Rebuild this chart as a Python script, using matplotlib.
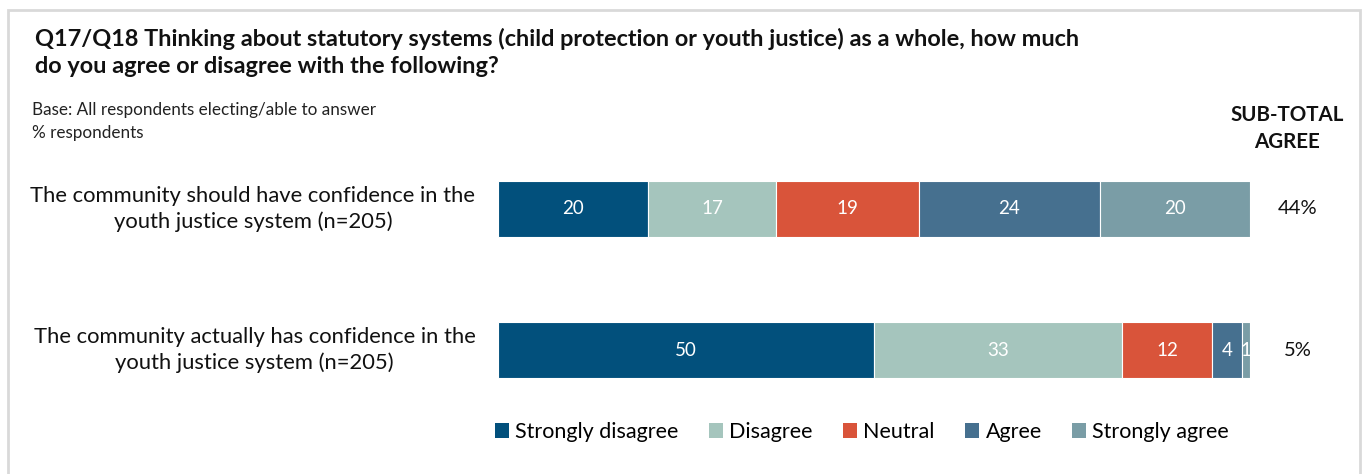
import matplotlib
matplotlib.use("Agg")
import matplotlib.pyplot as plt
from matplotlib.patches import Rectangle, Patch

plt.rcParams['font.family'] = ['Lato', 'DejaVu Sans']

categories = ["The community should have confidence in the\nyouth justice system (n=205)",
              "The community actually has confidence in the\nyouth justice system (n=205)"]
series_names = ["Strongly disagree", "Disagree", "Neutral", "Agree", "Strongly agree"]
strongly_disagree = [20, 50]
disagree = [17, 33]
neutral = [19, 12]
agree = [24, 4]
strongly_agree = [20, 1]
subtotal_agree = ["44%", "5%"]
colors = ["#02507C", "#A5C5BD", "#D9543A", "#46708F", "#7A9DA6"]

W, H = 1364, 474
fig = plt.figure(figsize=(W/100, H/100), dpi=100)

def fx(px): return px / W
def fy(py): return 1 - py / H

# frame
fig.patches.append(Rectangle((fx(8), fy(500)), fx(1360) - fx(8), fy(10) - fy(500),
                             transform=fig.transFigure, fill=False,
                             edgecolor="#D9D9D9", linewidth=2))

fig.text(fx(35), fy(39), "Q17/Q18 Thinking about statutory systems (child protection or youth justice) as a whole, how much",
         fontsize=16.9, fontweight="bold", ha="left", va="center", color="#111111")
fig.text(fx(35), fy(67), "do you agree or disagree with the following?",
         fontsize=16.9, fontweight="bold", ha="left", va="center", color="#111111")
fig.text(fx(32), fy(110), "Base: All respondents electing/able to answer",
         fontsize=12.3, ha="left", va="center", color="#222222")
fig.text(fx(32), fy(133), "% respondents",
         fontsize=12.3, ha="left", va="center", color="#222222")
fig.text(fx(1287), fy(115), "SUB-TOTAL", fontsize=14.8, fontweight="bold",
         ha="center", va="center", color="#111111")
fig.text(fx(1287), fy(142), "AGREE", fontsize=14.8, fontweight="bold",
         ha="center", va="center", color="#111111")

ax = fig.add_axes([fx(498), fy(400), fx(1250) - fx(498), fy(160) - fy(400)])
series = [strongly_disagree, disagree, neutral, agree, strongly_agree]
ypos = list(range(len(categories)))
left = [0] * len(categories)
for name, vals, c in zip(series_names, series, colors):
    bars = ax.barh(ypos, vals, left=left, height=0.404, color=c, edgecolor="white",
                   linewidth=0.8, label=name)
    for b, v in zip(bars, vals):
        ax.text(b.get_x() + b.get_width() / 2, b.get_y() + b.get_height() / 2, str(v),
                ha="center", va="center", color="white", fontsize=13.5)
    left = [l + v for l, v in zip(left, vals)]

ax.set_xlim(0, 100)
ax.set_ylim(1 + 50/141, -49/141)
ax.axis("off")

for i, (cat, st) in enumerate(zip(categories, subtotal_agree)):
    ax.text(-3.0, i, cat, ha="right", va="center", fontsize=15.8, multialignment="center",
            color="#111111", linespacing=1.32)
    ax.text(106.3, i, st, ha="center", va="center", fontsize=14.5, color="#111111")

handles = [Patch(facecolor=c, edgecolor="none") for c in colors]
fig.legend(handles, series_names, loc="center", bbox_to_anchor=(fx(862), fy(432)), ncol=5,
           frameon=False, fontsize=15.5, handlelength=0.65, handleheight=0.65,
           handletextpad=0.3, columnspacing=1.4)

fig.savefig("out.png", dpi=100)
